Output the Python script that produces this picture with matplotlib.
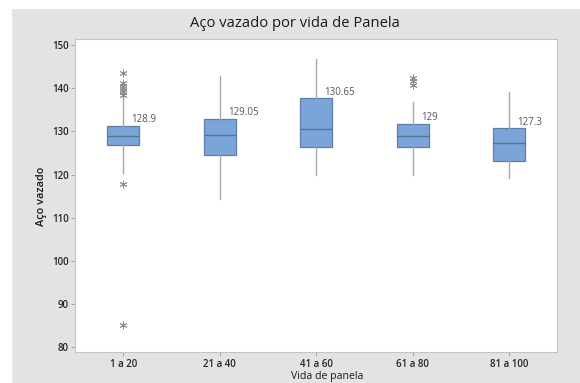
import numpy as np
import matplotlib.pyplot as plt
from matplotlib.patches import Rectangle

plt.rcParams['font.family'] = ['Open Sans', 'DejaVu Sans']

categories = ['1 a 20', '21 a 40', '41 a 60', '61 a 80', '81 a 100']
q1 = [126.8, 124.5, 126.3, 126.4, 123.1]
medians = [128.9, 129.05, 130.65, 129.0, 127.3]
q3 = [131.25, 132.9, 137.6, 131.7, 130.7]
whisker_low = [120.3, 114.3, 120.0, 119.8, 119.1]
whisker_high = [137.9, 142.8, 146.7, 136.9, 139.1]
outliers = [
    [143.4, 141.1, 140.4, 140.0, 139.5, 139.0, 138.4, 117.8, 85.1],
    [],
    [],
    [142.3, 141.6, 140.7],
    [],
]
yticks = [80, 90, 100, 110, 120, 130, 140, 150]

W, H = 580, 383
fig = plt.figure(figsize=(W / 100, H / 100), dpi=100, facecolor='white')

# grey panel behind the plot, with a thin beige rim on top and left
fig.patches.append(Rectangle((11.5 / W, 0), 1, 1 - 8.5 / H, transform=fig.transFigure,
                             facecolor='#e3e3e3', edgecolor='none', zorder=-2))
fig.patches.append(Rectangle((11.5 / W, 1 - 10 / H), 1, 1.5 / H, transform=fig.transFigure,
                             facecolor='#ebe8de', edgecolor='none', zorder=-1))
fig.patches.append(Rectangle((11.5 / W, 0), 1.5 / W, 1 - 8.5 / H, transform=fig.transFigure,
                             facecolor='#ebe8de', edgecolor='none', zorder=-1))

ax = fig.add_axes([75 / W, 1 - 352.3 / H, (556.5 - 75) / W, (352.3 - 39.3) / H])
ax.set_facecolor('white')

stats = []
for i in range(len(categories)):
    stats.append(dict(q1=q1[i], med=medians[i], q3=q3[i],
                      whislo=whisker_low[i], whishi=whisker_high[i],
                      fliers=outliers[i], label=categories[i]))

positions = np.arange(1, len(categories) + 1)
ax.bxp(stats, positions=positions, widths=0.335, patch_artist=True,
       showcaps=False,
       boxprops=dict(facecolor='#7ba4d8', edgecolor='#5f7ea6', linewidth=0.9),
       medianprops=dict(color='#56728f', linewidth=1.0),
       whiskerprops=dict(color='#a8a8a8', linewidth=1.0),
       flierprops=dict(marker=(6, 2, 0), markersize=5.5, markeredgecolor='#8c8c8c',
                       markeredgewidth=0.6, linestyle='none'))

for pos, med, top in zip(positions, medians, q3):
    ax.annotate(f'{med:g}', xy=(pos, top), xytext=(6, 2.6), textcoords='offset points',
                ha='left', va='baseline', fontsize=7, color='#555555')

ax.set_xlim(0.5, 5.49)
ax.set_ylim(78.84, 151.3)
ax.set_yticks(yticks)
ax.set_xticks(positions)
ax.set_xticklabels(categories)
ax.tick_params(axis='both', length=3, width=0.6, color='#9a9a9a', pad=1.5,
               labelsize=7, labelcolor='#262626')
for lbl in ax.get_xticklabels() + ax.get_yticklabels():
    lbl.set_fontweight('semibold')
for s in ax.spines.values():
    s.set_color('#c4c4c4')
    s.set_linewidth(0.8)

fig.text(294.5 / W, 1 - 23.5 / H, 'Aço vazado por vida de Panela', ha='center', va='center',
         fontsize=10.6, color='#1a1a1a')
fig.text(41.7 / W, 1 - 196 / H, 'Aço vazado', rotation=90, ha='center', va='center',
         fontsize=7.8, fontweight='semibold', color='#1a1a1a')
fig.text(327 / W, 1 - 376 / H, 'Vida de panela', ha='center', va='center',
         fontsize=7.6, color='#1a1a1a')

fig.savefig('out.png', dpi=100)
